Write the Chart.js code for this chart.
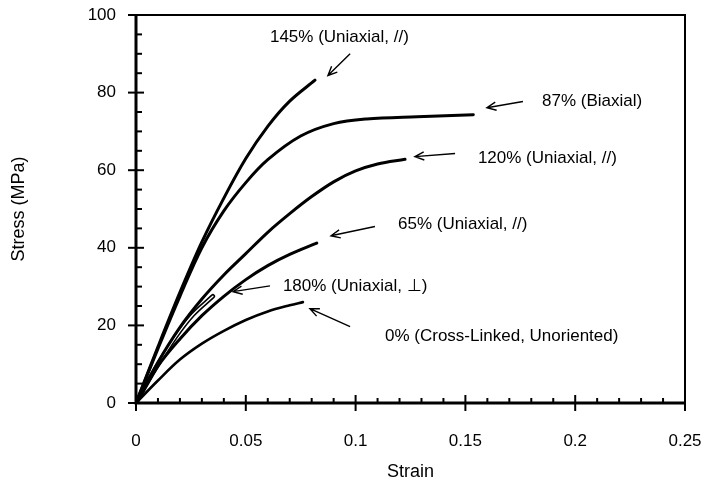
<!DOCTYPE html>
<html>
<head>
<meta charset="utf-8">
<script src="https://cdn.jsdelivr.net/npm/chart.js@4.4.1/dist/chart.umd.min.js"></script>
<style>
  html, body { margin: 0; padding: 0; background: #fff; }
  #wrap { width: 704px; height: 491px; }
</style>
</head>
<body>
<div id="wrap"><canvas id="grafico" width="704" height="491"></canvas></div>
<script>
// tick labels
const xTicks = [0, 0.05, 0.1, 0.15, 0.2, 0.25];
const yTicks = [0, 20, 40, 60, 80, 100];

// curves (strain, stress MPa)
const strain145 = [0, 0.01, 0.02, 0.03, 0.04, 0.05, 0.06, 0.07, 0.0815];
const stress145 = [0, 14.5, 28.5, 41.5, 52.8, 63, 71.3, 77.8, 83.2];

const strain87 = [0, 0.01, 0.02, 0.03, 0.04, 0.05, 0.06, 0.075, 0.09, 0.105, 0.128, 0.1536];
const stress87 = [0, 14, 27.5, 40, 49.5, 56.8, 62.7, 68.8, 72, 73.2, 73.8, 74.3];

const strain120 = [0, 0.01, 0.02, 0.03, 0.04, 0.05, 0.06, 0.07, 0.08, 0.09, 0.1, 0.11, 0.1225];
const stress120 = [0, 10.5, 19.5, 26.8, 33, 38.5, 44, 48.8, 53.2, 57, 59.8, 61.6, 62.8];

const strain65 = [0, 0.01, 0.02, 0.03, 0.04, 0.05, 0.06, 0.07, 0.0823];
const stress65 = [0, 9.5, 16.5, 22.5, 27.5, 31.8, 35.4, 38.3, 41.2];

const strain180 = [0, 0.009, 0.018, 0.026, 0.035];
const stress180 = [0, 9, 17, 22.8, 27.5];

const strain0 = [0, 0.01, 0.02, 0.03, 0.04, 0.05, 0.06, 0.07, 0.076];
const stress0 = [0, 5.8, 11.2, 15.3, 18.6, 21.4, 23.6, 25.2, 26];

// label text, text position and arrow (tail -> tip), in data units
const notes = [
  { text: '145% (Uniaxial, //)', at: [0.0610, 94.2], from: [0.0975, 90.0], to: [0.0874, 84.4] },
  { text: '87% (Biaxial)', at: [0.1849, 77.7], from: [0.1762, 77.7], to: [0.1598, 76.1] },
  { text: '120% (Uniaxial, //)', at: [0.1557, 63.0], from: [0.1453, 64.3], to: [0.1270, 63.5] },
  { text: '65% (Uniaxial, //)', at: [0.1193, 46.0], from: [0.1088, 45.5], to: [0.0888, 43.1] },
  { text: '180% (Uniaxial, \u22A5)', at: [0.0669, 30.0], from: [0.0610, 30.2], to: [0.0442, 28.7] },
  { text: '0% (Cross-Linked, Unoriented)', at: [0.1134, 17.1], from: [0.0975, 19.7], to: [0.0792, 24.3] }
];

const FONT = '"Liberation Sans", Arial, Helvetica, sans-serif';

function pts(xs, ys) {
  return xs.map((x, i) => ({ x: x, y: ys[i] }));
}

function curve(xs, ys, width, color) {
  return {
    data: pts(xs, ys),
    borderColor: color || '#000',
    borderWidth: width,
    pointRadius: 0,
    showLine: true,
    fill: false,
    tension: 0.35,
    borderCapStyle: 'round'
  };
}

// the axes' label overflow should not shrink the plot box
function noOverflow(s) {
  s.paddingTop = 0;
  s.paddingRight = 0;
  s.paddingLeft = 0;
  s.paddingBottom = 0;
}

// frame, ticks and annotations
const framePlugin = {
  id: 'frame',
  afterDatasetsDraw(chart) {
    const ctx = chart.ctx;
    const xs = chart.scales.x;
    const ys = chart.scales.y;
    const a = chart.chartArea;
    ctx.save();
    ctx.strokeStyle = '#000';
    ctx.lineCap = 'butt';

    // top + right border
    ctx.lineWidth = 2;
    ctx.beginPath();
    ctx.moveTo(a.left, a.top);
    ctx.lineTo(a.right, a.top);
    ctx.lineTo(a.right, a.bottom);
    ctx.stroke();

    // left + bottom axes
    ctx.lineWidth = 3;
    ctx.beginPath();
    ctx.moveTo(a.left, a.top - 1);
    ctx.lineTo(a.left, a.bottom);
    ctx.lineTo(a.right + 1, a.bottom);
    ctx.stroke();

    ctx.lineWidth = 2;
    // x major / minor ticks
    for (let v = 0; v <= 25; v++) {
      const px = xs.getPixelForValue(v / 100);
      ctx.beginPath();
      if (v % 5 === 0) {
        ctx.moveTo(px, a.bottom - 8);
        ctx.lineTo(px, a.bottom + 8);
      } else {
        ctx.moveTo(px, a.bottom);
        ctx.lineTo(px, a.bottom - 5);
      }
      ctx.stroke();
    }
    // y major / minor ticks
    for (let v = 0; v <= 100; v += 5) {
      const py = ys.getPixelForValue(v);
      ctx.beginPath();
      if (v % 20 === 0) {
        ctx.moveTo(a.left - 8, py);
        ctx.lineTo(a.left + 8, py);
      } else {
        ctx.moveTo(a.left, py);
        ctx.lineTo(a.left + 6, py);
      }
      ctx.stroke();
    }

    // annotations
    ctx.fillStyle = '#000';
    ctx.font = '17px ' + FONT;
    ctx.textAlign = 'left';
    ctx.textBaseline = 'middle';
    ctx.lineWidth = 1.4;
    notes.forEach(n => {
      ctx.fillText(n.text, xs.getPixelForValue(n.at[0]), ys.getPixelForValue(n.at[1]));
      const x1 = xs.getPixelForValue(n.from[0]), y1 = ys.getPixelForValue(n.from[1]);
      const x2 = xs.getPixelForValue(n.to[0]), y2 = ys.getPixelForValue(n.to[1]);
      const ang = Math.atan2(y2 - y1, x2 - x1);
      ctx.beginPath();
      ctx.moveTo(x1, y1);
      ctx.lineTo(x2, y2);
      const h = 10, sp = 0.42;
      ctx.moveTo(x2 - h * Math.cos(ang - sp), y2 - h * Math.sin(ang - sp));
      ctx.lineTo(x2, y2);
      ctx.lineTo(x2 - h * Math.cos(ang + sp), y2 - h * Math.sin(ang + sp));
      ctx.stroke();
    });
    ctx.restore();
  }
};

const ctx = document.getElementById('grafico').getContext('2d');

window.myChart = new Chart(ctx, {
  type: 'scatter',
  data: {
    datasets: [
      curve(strain145, stress145, 3),
      curve(strain87, stress87, 3),
      curve(strain120, stress120, 3),
      curve(strain65, stress65, 3),
      curve(strain0, stress0, 2.6),
      // 180% is drawn as an outlined (hollow) line
      curve(strain180, stress180, 1.4, '#fff'),
      curve(strain180, stress180, 4.6)
    ]
  },
  options: {
    responsive: false,
    animation: false,
    devicePixelRatio: 1,
    layout: { padding: { top: 15, right: 19, left: 0, bottom: 0 } },
    plugins: {
      legend: { display: false },
      tooltip: { enabled: false }
    },
    scales: {
      x: {
        type: 'linear',
        min: 0,
        max: 0.25,
        afterFit: s => { s.height = 88; noOverflow(s); },
        afterBuildTicks: s => { s.ticks = xTicks.map(v => ({ value: v })); },
        grid: { display: false },
        border: { display: false },
        ticks: {
          color: '#000',
          padding: 20,
          font: { family: FONT, size: 17 },
          callback: v => String(+v.toFixed(2))
        },
        title: {
          display: true,
          text: 'Strain',
          color: '#000',
          font: { family: FONT, size: 18 },
          padding: { bottom: 8, top: 0 }
        }
      },
      y: {
        min: 0,
        max: 100,
        afterFit: s => { s.width = 136; noOverflow(s); },
        afterBuildTicks: s => { s.ticks = yTicks.map(v => ({ value: v })); },
        grid: { display: false },
        border: { display: false },
        ticks: {
          color: '#000',
          padding: 12,
          font: { family: FONT, size: 17 }
        },
        title: {
          display: true,
          text: 'Stress (MPa)',
          color: '#000',
          font: { family: FONT, size: 18 },
          padding: { top: 8, bottom: 0 }
        }
      }
    }
  },
  plugins: [framePlugin]
});
</script>
</body>
</html>
